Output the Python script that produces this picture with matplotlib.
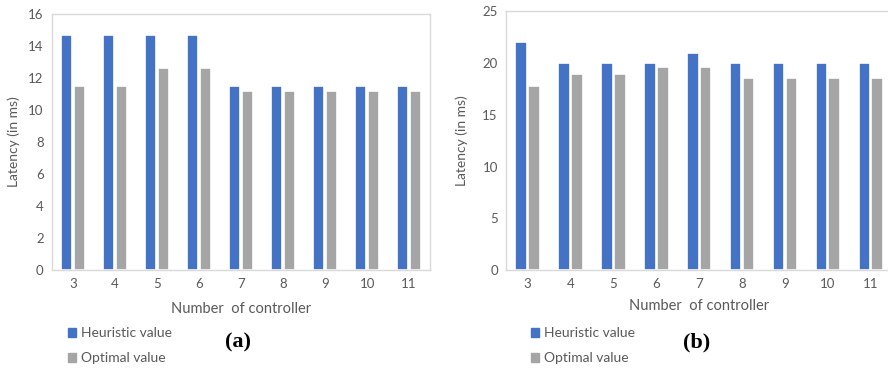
#import necessary
import numpy as np
import matplotlib
matplotlib.use('Agg')
import matplotlib.pyplot as plt
from matplotlib.patches import Patch

#chart data
controllers = [3, 4, 5, 6, 7, 8, 9, 10, 11]
heuristic_a = [14.7, 14.7, 14.7, 14.7, 11.5, 11.5, 11.5, 11.5, 11.5]
optimal_a = [11.5, 11.5, 12.6, 12.6, 11.2, 11.2, 11.2, 11.2, 11.2]
heuristic_b = [22.0, 20.0, 20.0, 20.0, 21.0, 20.0, 20.0, 20.0, 20.0]
optimal_b = [17.8, 18.9, 18.9, 19.6, 19.6, 18.5, 18.5, 18.5, 18.5]
yticks_a = [0, 2, 4, 6, 8, 10, 12, 14, 16]
yticks_b = [0, 5, 10, 15, 20, 25]

blue = '#4472C4'
gray = '#A5A5A5'
txt = '#595959'

plt.rcParams['font.family'] = ['Lato', 'DejaVu Sans']

#draws one excel-style bar panel
def bar_panel(ax, heur, opt, yticks):
    x = np.array(controllers)
    ax.bar(x - 0.15, heur, width=0.27, color=blue, edgecolor='white', linewidth=1.2, zorder=2)
    ax.bar(x + 0.15, opt, width=0.27, color=gray, edgecolor='white', linewidth=1.2, zorder=2)
    ax.set_xlim(2.5, 11.5)
    ax.set_ylim(yticks[0], yticks[-1])
    ax.set_xticks(controllers)
    ax.set_yticks(yticks)
    ax.tick_params(length=0, labelsize=9.5, labelcolor=txt, pad=6)
    for s in ax.spines.values():
        s.set_color('#D9D9D9')
        s.set_linewidth(1.0)
    ax.set_ylabel('Latency (in ms)', fontsize=10, color=txt)
    ax.set_xlabel('Number  of controller', fontsize=10.5, color=txt, labelpad=8)

fig = plt.figure(figsize=(8.88, 3.71), dpi=100)
ax1 = fig.add_axes([0.0586, 0.272, 0.4257, 0.690])
ax2 = fig.add_axes([0.570, 0.272, 0.4347, 0.698])

bar_panel(ax1, heuristic_a, optimal_a, yticks_a)
bar_panel(ax2, heuristic_b, optimal_b, yticks_b)
ax1.yaxis.labelpad = 6
ax2.yaxis.labelpad = 10
ax2.xaxis.labelpad = 6

handles = [Patch(color=blue), Patch(color=gray)]
labels = ['Heuristic value', 'Optimal value']
for xa in [0.0766, 0.598]:
    leg = fig.legend(handles, labels, loc='upper left', bbox_to_anchor=(xa, 0.118),
                     frameon=False, fontsize=10, handlelength=0.6, handleheight=0.6,
                     handletextpad=0.3, labelspacing=0.95, borderpad=0, borderaxespad=0)
    for t in leg.get_texts():
        t.set_color(txt)

fig.text(0.268, 0.078, '(a)', fontsize=16, fontweight='bold', family='Liberation Serif', ha='center', va='center')
fig.text(0.785, 0.078, '(b)', fontsize=16, fontweight='bold', family='Liberation Serif', ha='center', va='center')

fig.savefig('out.png', dpi=100)
plt.close()
